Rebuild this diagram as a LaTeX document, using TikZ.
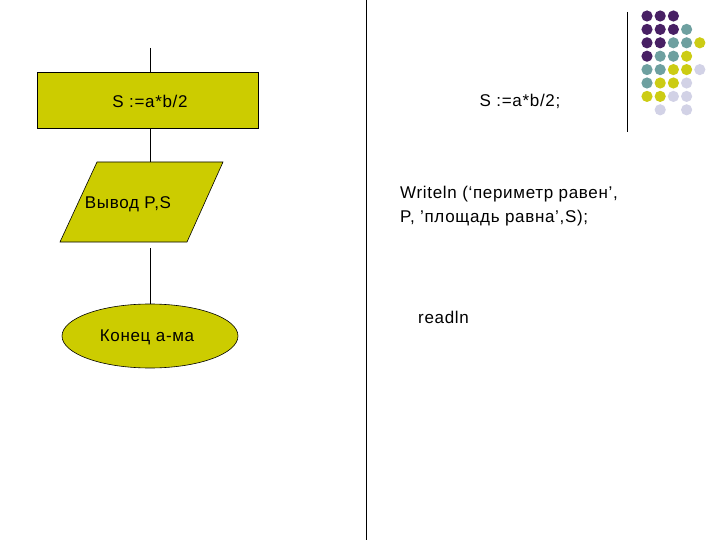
\documentclass[tikz,border=0pt]{standalone}
\usepackage{fontspec}
\setmainfont{Liberation Sans}[LetterSpace=4]
\usetikzlibrary{shapes.geometric}
\definecolor{olv}{RGB}{204,204,0}
\definecolor{pp}{RGB}{72,32,100}
\definecolor{tl}{RGB}{110,160,160}
\definecolor{yl}{RGB}{204,204,20}
\definecolor{lv}{RGB}{210,210,230}
\definecolor{nn}{RGB}{255,255,255}
\tikzset{shp/.style={draw=black,fill=olv,line width=0.6pt},
 txt/.style={font=\fontsize{17}{20}\selectfont,inner sep=0pt},
 ln/.style={draw=black,line width=0.6pt}}
\begin{document}
\begin{tikzpicture}[x=1pt,y=-1pt]
\useasboundingbox (0,0) rectangle (720,540);
\node[shp,minimum width=221pt,minimum height=56pt,inner sep=0pt] (r) at (147.5,100) {};
\node[txt] (rt) at (150,101) {S :=a*b/2};
\coordinate (t0) at (150,48);
\draw[ln] (t0) -- (r.north -| t0);
\path[shp] (97,162) coordinate (p1) -- (223,162) -- (187,242) -- (60,242) -- cycle;
\node[txt] (pt) at (128,204) {Вывод P,S};
\coordinate (p0) at (150,162);
\draw[ln] (r.south -| p0) -- (p0);
\node[shp,ellipse,minimum width=176pt,minimum height=64pt] (e) at (150,336) {};
\node[txt] (et) at (147,337) {Конец а-ма};
\coordinate (q0) at (150,248);
\draw[ln] (q0) -- (e.north);
\coordinate (v1) at (366,0); \coordinate (v2) at (366,540);
\draw[ln] (v1) -- (v2);
\node[txt] (a) at (520,101) {S :=a*b/2;};
\node[txt,anchor=west] (b1) at (400,194) {Writeln (‘периметр равен’,};
\node[txt,anchor=west] (b2) at (400,218) {P, ’площадь равна’,S);};
\node[txt,anchor=west] (c) at (418,317) {readln};
\coordinate (g1) at (627,12); \coordinate (g2) at (627,132);
\draw[ln] (g1) -- (g2);
\def\dotrow#1#2{\foreach \c [count=\i from 0] in {#2} {\fill[\c] (647+\i*13.2,16+#1*13.4) circle (5.6);}}
\dotrow{0}{pp,pp,pp,nn,nn}
\dotrow{1}{pp,pp,pp,tl,nn}
\dotrow{2}{pp,pp,tl,tl,yl}
\dotrow{3}{pp,tl,tl,yl,nn}
\dotrow{4}{tl,tl,yl,yl,lv}
\dotrow{5}{tl,yl,yl,lv,nn}
\dotrow{6}{yl,yl,lv,lv,nn}
\dotrow{7}{nn,lv,nn,lv,nn}
\end{tikzpicture}
\end{document}
